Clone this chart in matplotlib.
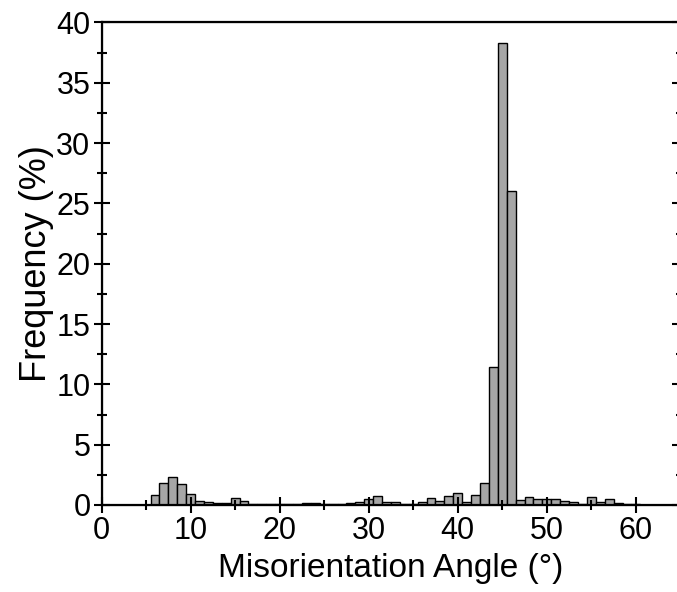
import matplotlib
matplotlib.use('Agg')
import matplotlib.pyplot as plt
from matplotlib.ticker import MultipleLocator

plt.rcParams['font.family'] = ['Liberation Sans', 'DejaVu Sans']

# bin centres (degrees) and frequency (%)
angles = list(range(6, 61))
freq = [0.8, 1.8, 2.35, 1.7, 0.95, 0.37, 0.25, 0.17, 0.18, 0.6,   # 6-15
        0.3, 0.12, 0.06, 0.05, 0.06, 0.1, 0.05, 0.17, 0.18, 0.05,  # 16-25
        0.12, 0.05, 0.14, 0.24, 0.5, 0.72, 0.22, 0.24, 0.12, 0.08, # 26-35
        0.24, 0.55, 0.34, 0.72, 0.98, 0.25, 0.85, 1.8, 11.4, 38.3, # 36-45
        26.0, 0.38, 0.63, 0.52, 0.52, 0.5, 0.36, 0.27, 0.1, 0.66,  # 46-55
        0.27, 0.47, 0.18, 0.1, 0.04]                               # 56-60

fig = plt.figure(figsize=(6.77, 5.92), dpi=100)
ax = fig.add_axes([0.150, 0.147, 0.855, 0.815])

ax.bar(angles, freq, width=1.0, color='#a6a6a6', edgecolor='black', linewidth=1.0)

ax.set_xlim(0, 65)
ax.set_ylim(0, 40)
ax.xaxis.set_major_locator(MultipleLocator(10))
ax.xaxis.set_minor_locator(MultipleLocator(5))
ax.yaxis.set_major_locator(MultipleLocator(5))
ax.yaxis.set_minor_locator(MultipleLocator(2.5))
ax.tick_params(which='major', direction='inout', length=12, width=1.5, labelsize=22, pad=2)
ax.tick_params(which='minor', direction='inout', length=6.5, width=1.5)
for s in ax.spines.values():
    s.set_linewidth(1.6)

# right axis: inward ticks only
ax2 = ax.twinx()
ax2.set_ylim(0, 40)
ax2.yaxis.set_major_locator(MultipleLocator(5))
ax2.yaxis.set_minor_locator(MultipleLocator(2.5))
ax2.tick_params(which='major', direction='in', length=6, width=1.5, labelright=False)
ax2.tick_params(which='minor', direction='in', length=3, width=1.5)

ax.set_xlabel('Misorientation Angle (°)', fontsize=24, labelpad=5)
ax.set_ylabel('Frequency (%)', fontsize=26, labelpad=2)

fig.savefig('out.png', dpi=100)
